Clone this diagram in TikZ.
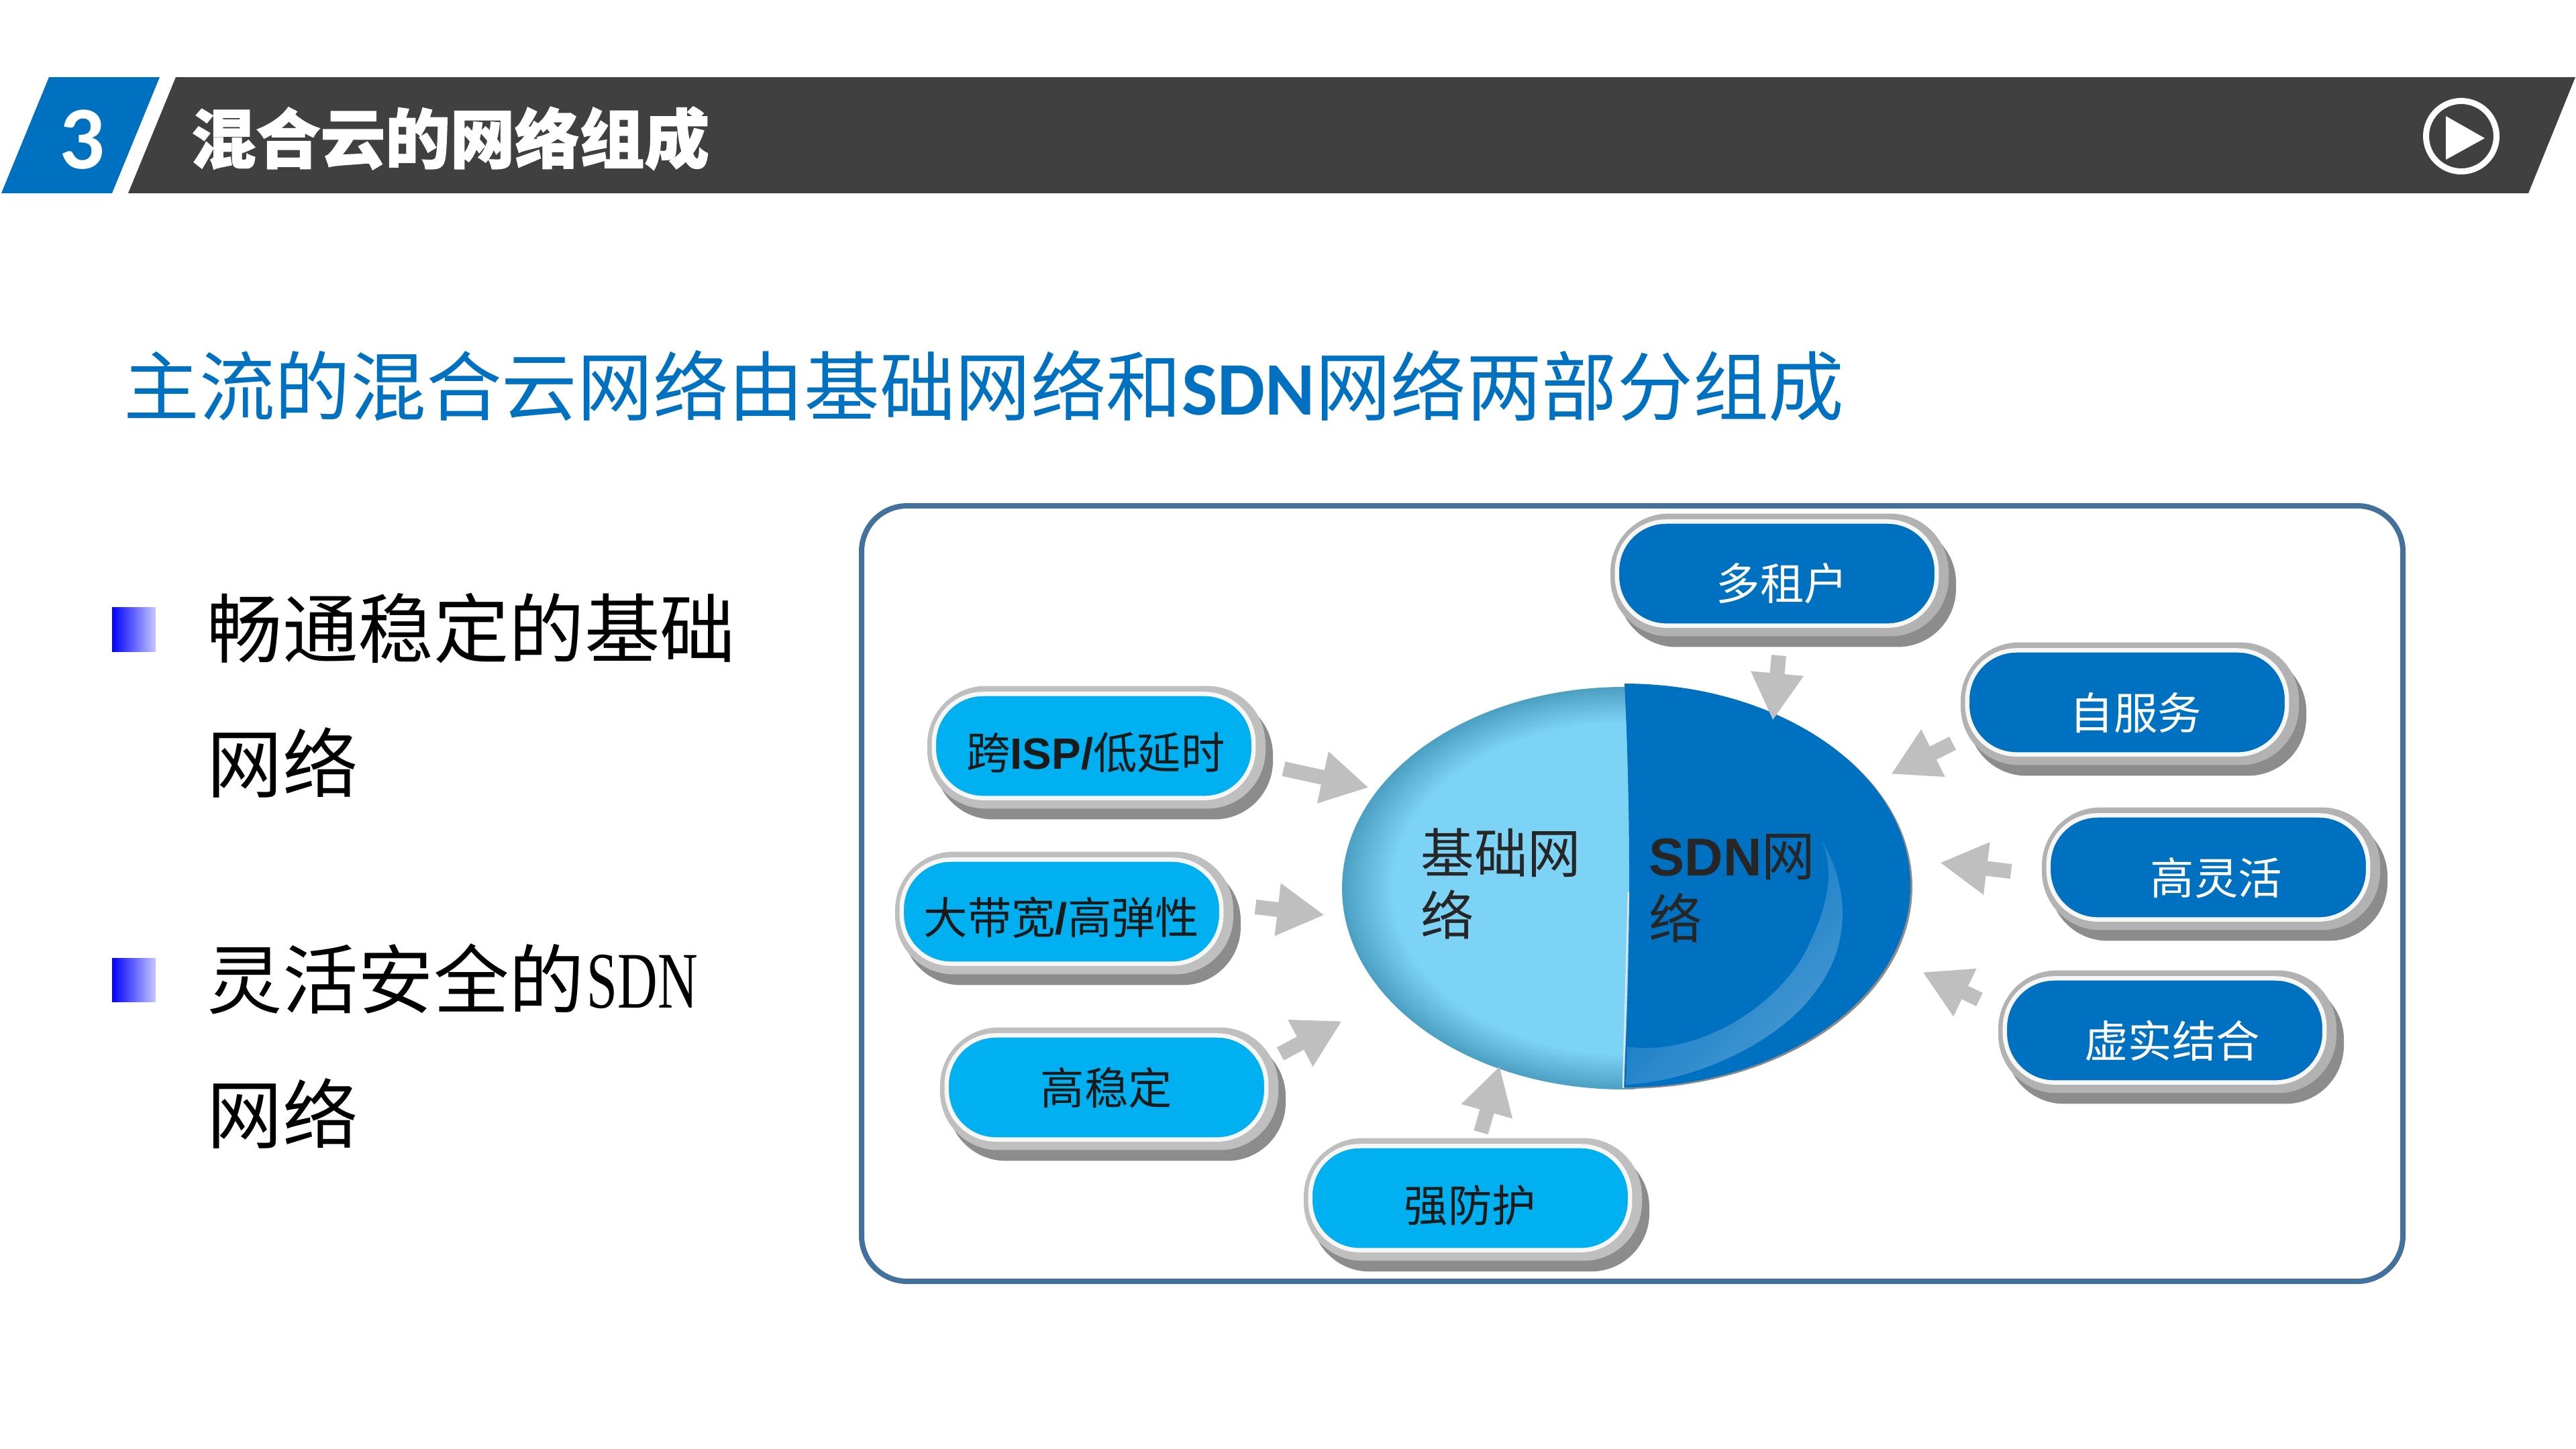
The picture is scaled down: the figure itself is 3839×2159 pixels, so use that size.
\documentclass[tikz,border=0pt]{standalone}
\usepackage{fontspec}
\setmainfont{Noto Sans CJK SC}
\newfontfamily\heavyfont{Noto Sans CJK SC}[BoldFeatures={FakeBold=1.4}]
\newfontfamily\arialfont{Liberation Sans}
\newfontfamily\calibrifont{Carlito}
\newfontfamily\narrowserif[FakeStretch=0.69]{Liberation Serif}
\usetikzlibrary{arrows.meta}
\usetikzlibrary{calc}
\definecolor{bannergray}{HTML}{404040}
\definecolor{deepblue}{HTML}{0070C0}
\definecolor{skyblue}{HTML}{00B0F0}
\definecolor{framepen}{HTML}{44709C}
\definecolor{arrowgray}{HTML}{BFBFBF}
\definecolor{ringdark}{HTML}{B2B2B2}
\definecolor{ringlight}{HTML}{BFBFBF}
\definecolor{pillshade}{HTML}{8C8C8C}
\definecolor{pillwhite}{HTML}{F7F7F7}
\definecolor{disclight}{HTML}{7DD3F5}
\definecolor{discedge}{HTML}{4B9FC3}
\definecolor{labelink}{HTML}{1A1A1A}
\definecolor{discink}{HTML}{262626}
\pgfdeclareradialshading{discshade}{\pgfpoint{0bp}{0bp}}{color(0bp)=(disclight);color(20.5bp)=(disclight);color(25bp)=(discedge);color(50bp)=(discedge)}
\tikzset{
  pillbase/.style={rectangle, inner sep=0pt, minimum width=4.76cm, minimum height=1.55cm,
    rounded corners=20.8pt, line width=1.85pt, draw=pillwhite},
  pilldark/.style={pillbase, fill=deepblue,
    preaction={draw=pillshade, fill=pillshade, line width=7.9pt, transform canvas={shift={(15,18)}}},
    preaction={draw=ringdark, fill=ringdark, line width=7.9pt, transform canvas={shift={(4,2)}}}},
  pilllight/.style={pillbase, fill=skyblue,
    preaction={draw=pillshade, fill=pillshade, line width=7.9pt, transform canvas={shift={(15,18)}}},
    preaction={draw=ringlight, fill=ringlight, line width=7.9pt, transform canvas={shift={(4,2)}}}},
  whitelabel/.style={anchor=base, inner sep=0pt, text=white, font=\fontsize{18.6}{22}\selectfont},
  darklabel/.style={anchor=base, inner sep=0pt, text=labelink, font=\fontsize{18.6}{22}\selectfont},
  disclabel/.style={anchor=base west, inner sep=0pt, text=discink, font=\fontsize{22.6}{26}\selectfont},
  pointline/.style={anchor=base west, inner sep=0pt, text=black, font=\fontsize{32}{38}\selectfont},
  headline/.style={anchor=base west, inner sep=0pt, text=deepblue, font=\fontsize{32.03}{38}\selectfont},
  bigarrow/.style={draw=arrowgray, line width=6.26pt, -{Triangle[length=20pt,width=21pt]}}
}
\begin{document}
\begin{tikzpicture}[x=0.01cm,y=-0.01cm]
    \useasboundingbox (0,0) rectangle (3839,2159);
    \fill[deepblue] (73,115) -- (238,115) -- (167,288) -- (2,288) -- cycle;
    \fill[bannergray] (262,115) -- (3838,115) -- (3768,288) -- (191,288) -- cycle;
    \node[anchor=base, inner sep=0pt, text=white, font=\fontsize{38}{46}\selectfont\calibrifont\bfseries] (secnum) at (122,251) {3};
    \node[anchor=base west, inner sep=0pt, text=white, font=\fontsize{27.45}{32}\selectfont\heavyfont\bfseries] (sectitle) at (284,243) {混合云的网络组成};
    \draw[white, line width=2.56pt] (3668,203) circle (52.5);
    \fill[white] (3645,173) -- (3703,206) -- (3645,238) -- cycle;

    \node[headline] (headtext) at (184,618) {主流的混合云网络由基础网络和{\calibrifont\bfseries SDN}网络两部分组成};

    \shade[left color=blue, right color=blue!22!white] (167,905) rectangle (232,971);
    \shade[left color=blue, right color=blue!22!white] (167,1428) rectangle (232,1493);
    \node[pointline] (firstone) at (308,979) {畅通稳定的基础};
    \node[pointline] (firsttwo) at (308,1180) {网络};
    \node[pointline] (secondone) at (308,1502) {灵活安全的\hspace{1pt}{\fontsize{34}{38}\selectfont\narrowserif SDN}};
    \node[pointline] (secondtwo) at (308,1703) {网络};

    \draw[framepen, line width=2.28pt, rounded corners=19.3pt] (1284,754) rectangle (3581,1910);

    \begin{scope}
      \clip (1980,1000) rectangle (2436,1650);
      \shade[shading=discshade] (2420,1324) ellipse (420 and 300);
    \end{scope}
    \begin{scope}
      \clip (2420,1000) .. controls (2431,1200) and (2431,1440) .. (2418,1650) -- (2900,1650) -- (2900,1000) -- cycle;
      \fill[pillshade] (2423,1322) ellipse (427 and 301);
      \fill[deepblue] (2420,1320) ellipse (427 and 301);
    \end{scope}
    \shade[top color=deepblue, middle color=deepblue!93!white, bottom color=deepblue!70!white, shading angle=45]
      (2714,1251) .. controls (2750,1310) and (2765,1400) .. (2707,1476)
      .. controls (2660,1545) and (2540,1610) .. (2423,1617)
      -- (2425,1560) .. controls (2520,1575) and (2640,1510) .. (2690,1420)
      .. controls (2725,1350) and (2735,1300) .. (2714,1251) -- cycle;
    \draw[white!90!black, line width=0.7pt] (2427,1330) -- (2419,1622);
    \node[disclabel] (baseone) at (2117,1301) {基础网};
    \node[disclabel] (basetwo) at (2117,1394) {络};
    \node[disclabel] (sdnone) at (2457,1305) {{\arialfont\bfseries SDN}网};
    \node[disclabel] (sdntwo) at (2457,1399) {络};

    \node[pilldark] (tenant) at (2648,855) {};
    \node[pilldark] (selfserve) at (3170,1047) {};
    \node[pilldark] (flexible) at (3291,1293) {};
    \node[pilldark] (virtual) at (3226,1536) {};
    \node[pilllight] (crossisp) at (1630,1112) {};
    \node[pilllight] (bandwidth) at (1582,1359) {};
    \node[pilllight] (stable) at (1649,1621) {};
    \node[pilllight] (defense) at (2191,1786) {};

    \node[whitelabel] (tenanttext) at (2656,894) {多租户};
    \node[whitelabel] (selfservetext) at (3183,1087) {自服务};
    \node[whitelabel] (flexibletext) at (3303,1333) {高灵活};
    \node[whitelabel] (virtualtext) at (3237,1576) {虚实结合};
    \node[darklabel] (crossisptext) at (1633,1146) {跨{\arialfont\bfseries ISP/}低延时};
    \node[darklabel] (bandwidthtext) at (1582,1392) {大带宽{\arialfont\bfseries /}高弹性};
    \node[darklabel] (stabletext) at (1649,1646) {高稳定};
    \node[darklabel] (defensetext) at (2191,1821) {强防护};

    \coordinate (tenanttail) at (2651,977);
    \coordinate (tenanttip) at (2642,1074);
    \coordinate (selfservetail) at (2910,1108);
    \coordinate (selfservetip) at (2818,1154);
    \coordinate (flexibletail) at (2997,1299);
    \coordinate (flexibletip) at (2891,1286);
    \coordinate (virtualtail) at (2950,1490);
    \coordinate (virtualtip) at (2865,1449);
    \coordinate (defensetail) at (2207,1688);
    \coordinate (defensetip) at (2235,1589);
    \coordinate (stabletail) at (1908,1571);
    \coordinate (stabletip) at (2000,1522);
    \coordinate (bandwidthtail) at (1871,1352);
    \coordinate (bandwidthtip) at (1974,1364);
    \coordinate (crossisptail) at (1913,1146);
    \coordinate (crossisptip) at (2040,1174);
    \draw[bigarrow] (tenanttail) -- (tenanttip);
    \draw[bigarrow] (selfservetail) -- (selfservetip);
    \draw[bigarrow] (flexibletail) -- (flexibletip);
    \draw[bigarrow] (virtualtail) -- (virtualtip);
    \draw[bigarrow] (defensetail) -- (defensetip);
    \draw[bigarrow] (stabletail) -- (stabletip);
    \draw[bigarrow] (bandwidthtail) -- (bandwidthtip);
    \draw[bigarrow] (crossisptail) -- (crossisptip);
\end{tikzpicture}
\end{document}
